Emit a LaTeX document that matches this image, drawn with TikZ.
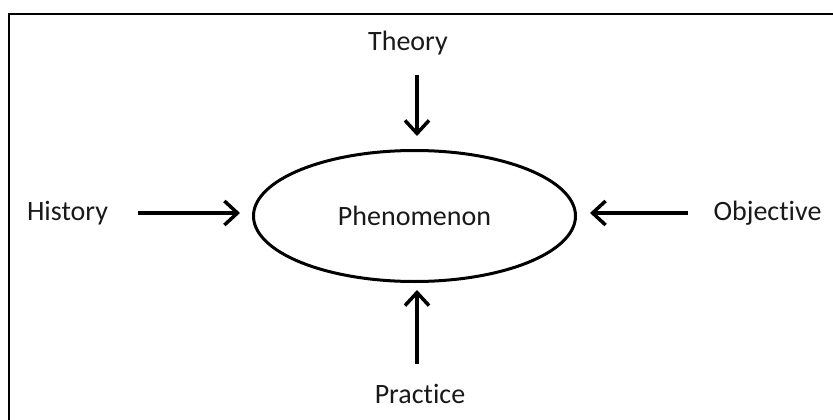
\documentclass[tikz,border=0pt]{standalone}
\usepackage{fontspec}
\setmainfont{Carlito}[Ligatures={NoCommon}]
\usetikzlibrary{arrows.meta,shapes.geometric}
\begin{document}
\begin{tikzpicture}[x=1pt,y=-1pt,
  lbl/.style={inner sep=0pt,font=\fontsize{28}{32}\selectfont,text=black!90},
  arr/.style={line width=3.5pt,-{Straight Barb[length=13pt,width=24pt,line width=3.5pt]}},
  ell/.style={ellipse,draw,line width=3pt,minimum width=322pt,minimum height=131pt,inner sep=0pt}]
\useasboundingbox (0,0) rectangle (833,420);
\begin{scope}
\clip (0,0) rectangle (833,420);
\draw[line width=1.6pt] (9,440) -- (9,14) -- (850,14);
\end{scope}
\node[ell,lbl] (ph) at (414.5,216) {Phenomenon};
\node[lbl,anchor=base] (th) at (408,51) {Theory};
\node[lbl,anchor=base] (hi) at (67.5,220) {History};
\node[lbl,anchor=base] (ob) at (767.5,220) {Object{}ive};
\node[lbl,anchor=base] (pr) at (420,403) {Pract{}ice};
\coordinate (ths) at (417,75);
\coordinate (his) at (138,213);
\coordinate (obs) at (688,213);
\coordinate (prs) at (417,364);
\draw[arr] (ths) -- (417,136);
\draw[arr] (his) -- (240,213);
\draw[arr] (obs) -- (590,213);
\draw[arr] (prs) -- (417,290);
\end{tikzpicture}
\end{document}
